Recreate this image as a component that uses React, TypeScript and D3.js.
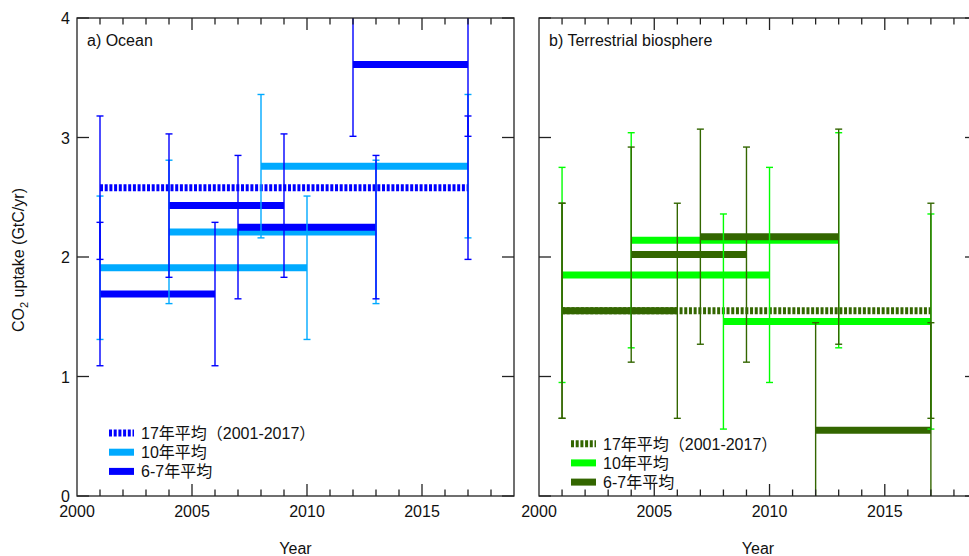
import React from "react";
import * as d3 from "d3";

// ---- Data ----
const xTickYears = [2000, 2005, 2010, 2015];
const yTickValues = [0, 1, 2, 3, 4];

const ocean17Start = [2001];
const ocean17End = [2017];
const ocean17Value = [2.58];
const ocean17Err = [0.6];

const ocean10Start = [2001, 2004, 2008];
const ocean10End = [2010, 2013, 2017];
const ocean10Value = [1.91, 2.21, 2.76];
const ocean10Err = [0.6, 0.6, 0.6];

const ocean67Start = [2001, 2004, 2007, 2012];
const ocean67End = [2006, 2009, 2013, 2017];
const ocean67Value = [1.69, 2.43, 2.25, 3.61];
const ocean67Err = [0.6, 0.6, 0.6, 0.6];

const land17Start = [2001];
const land17End = [2017];
const land17Value = [1.55];
const land17Err = [0.9];

const land10Start = [2001, 2004, 2008];
const land10End = [2010, 2013, 2017];
const land10Value = [1.85, 2.14, 1.46];
const land10Err = [0.9, 0.9, 0.9];

const land67Start = [2001, 2004, 2007, 2012];
const land67End = [2006, 2009, 2013, 2017];
const land67Value = [1.55, 2.02, 2.17, 0.55];
const land67Err = [0.9, 0.9, 0.9, 0.9];

const legendLabels = ["17年平均（2001-2017）", "10年平均", "6-7年平均"];

type Seg = { s: number; e: number; v: number; err: number };
const segs = (s: number[], e: number[], v: number[], err: number[]): Seg[] =>
  s.map((d, i) => ({ s: d, e: e[i], v: v[i], err: err[i] }));

const FONT = "'Liberation Sans', Arial, Helvetica, sans-serif";
const CJK = "'Liberation Sans', 'Noto Sans CJK JP', sans-serif";
const AXIS = "#222";

type PanelProps = {
  id: string;
  left: number;
  right: number;
  title: string;
  s17: Seg[];
  s10: Seg[];
  s67: Seg[];
  c17: string;
  c10: string;
  c67: string;
  legendX: number;
  legendY: number;
  yLabels: boolean;
};

const TOP = 18;
const BOTTOM = 496;

function Panel(p: PanelProps) {
  const x = d3.scaleLinear().domain([2000, 2019]).range([p.left, p.right]);
  const y = d3.scaleLinear().domain([0, 4]).range([BOTTOM, TOP]);
  const minor = d3.range(2001, 2019);
  const lw = 7;
  const cap = 3.5;

  const errBars = (list: Seg[], color: string, key: string) =>
    list.flatMap((d, i) =>
      [d.s, d.e].map((yr, j) => {
        const xx = x(yr);
        const y1 = y(d.v - d.err);
        const y2 = y(d.v + d.err);
        return (
          <g key={`${key}-${i}-${j}`} stroke={color} strokeWidth={1.4}>
            <line x1={xx} x2={xx} y1={y1} y2={y2} />
            <line x1={xx - cap} x2={xx + cap} y1={y1} y2={y1} />
            <line x1={xx - cap} x2={xx + cap} y1={y2} y2={y2} />
          </g>
        );
      })
    );

  const hLines = (list: Seg[], color: string, key: string, dash?: string) =>
    list.map((d, i) => (
      <line
        key={`${key}-${i}`}
        x1={x(d.s)}
        x2={x(d.e)}
        y1={y(d.v)}
        y2={y(d.v)}
        stroke={color}
        strokeWidth={lw}
        strokeDasharray={dash}
      />
    ));

  const legendColors = [p.c17, p.c10, p.c67];
  const dash = "3 1.7";

  return (
    <g>
      <defs>
        <clipPath id={p.id}>
          <rect x={p.left} y={TOP} width={p.right - p.left} height={BOTTOM - TOP} />
        </clipPath>
      </defs>
      <g clipPath={`url(#${p.id})`}>
        {hLines(p.s17, p.c17, "l17", dash)}
        {hLines(p.s10, p.c10, "l10")}
        {hLines(p.s67, p.c67, "l67")}
        {errBars(p.s10, p.c10, "e10")}
        {errBars(p.s67, p.c67, "e67")}
        {errBars(p.s17, p.c17, "e17")}
      </g>
      {/* frame */}
      <rect
        x={p.left}
        y={TOP}
        width={p.right - p.left}
        height={BOTTOM - TOP}
        fill="none"
        stroke={AXIS}
        strokeWidth={1.3}
      />
      {/* x ticks */}
      {minor.map((yr) => {
        const major = yr % 5 === 0;
        const len = major ? 12 : 6.5;
        return (
          <g key={`xt-${yr}`} stroke={AXIS} strokeWidth={1.3}>
            <line x1={x(yr)} x2={x(yr)} y1={BOTTOM} y2={BOTTOM - len} />
            <line x1={x(yr)} x2={x(yr)} y1={TOP} y2={TOP + len} />
          </g>
        );
      })}
      {xTickYears.map((yr) => (
        <text
          key={`xl-${yr}`}
          x={x(yr)}
          y={517}
          textAnchor="middle"
          fontFamily={FONT}
          fontSize={16}
          fill="#111"
        >
          {yr}
        </text>
      ))}
      {/* y ticks */}
      {yTickValues.map((v) => (
        <g key={`yt-${v}`} stroke={AXIS} strokeWidth={1.3}>
          <line x1={p.left} x2={p.left + 12} y1={y(v)} y2={y(v)} />
          <line x1={p.right} x2={p.right - 12} y1={y(v)} y2={y(v)} />
        </g>
      ))}
      {p.yLabels &&
        yTickValues.map((v) => (
          <text
            key={`yl-${v}`}
            x={p.left - 7}
            y={y(v) + 6}
            textAnchor="end"
            fontFamily={FONT}
            fontSize={16}
            fill="#111"
          >
            {v}
          </text>
        ))}
      <text
        x={(p.left + p.right) / 2}
        y={554}
        textAnchor="middle"
        fontFamily={FONT}
        fontSize={16}
        fill="#111"
      >
        Year
      </text>
      <text x={p.left + 10} y={46} fontFamily={FONT} fontSize={16} fill="#111">
        {p.title}
      </text>
      {/* legend */}
      {legendLabels.map((lab, i) => {
        const ly = p.legendY + i * 19.2;
        return (
          <g key={`lg-${i}`}>
            <line
              x1={p.legendX}
              x2={p.legendX + 25}
              y1={ly}
              y2={ly}
              stroke={legendColors[i]}
              strokeWidth={lw}
              strokeDasharray={i === 0 ? dash : undefined}
            />
            <text
              x={p.legendX + 32}
              y={ly + 6}
              fontFamily={CJK}
              fontSize={16}
              fill="#111"
            >
              {lab}
            </text>
          </g>
        );
      })}
    </g>
  );
}

export default function App() {
  return (
    <svg
      width={969}
      height={556}
      style={{ position: "absolute", left: 0, top: 0, background: "#fff" }}
    >
      <rect x={0} y={0} width={969} height={556} fill="#fff" />
      <Panel
        id="clipA"
        left={77}
        right={514}
        title="a) Ocean"
        s17={segs(ocean17Start, ocean17End, ocean17Value, ocean17Err)}
        s10={segs(ocean10Start, ocean10End, ocean10Value, ocean10Err)}
        s67={segs(ocean67Start, ocean67End, ocean67Value, ocean67Err)}
        c17="#0000ff"
        c10="#00aaff"
        c67="#0000ff"
        legendX={109}
        legendY={433}
        yLabels={true}
      />
      <Panel
        id="clipB"
        left={539}
        right={977}
        title="b) Terrestrial biosphere"
        s17={segs(land17Start, land17End, land17Value, land17Err)}
        s10={segs(land10Start, land10End, land10Value, land10Err)}
        s67={segs(land67Start, land67End, land67Value, land67Err)}
        c17="#336600"
        c10="#00ff00"
        c67="#336600"
        legendX={571}
        legendY={443.7}
        yLabels={false}
      />
      <text
        transform="translate(24,260) rotate(-90)"
        textAnchor="middle"
        fontFamily={FONT}
        fontSize={16}
        fill="#111"
      >
        CO
        <tspan fontSize={11} dy={4}>
          2
        </tspan>
        <tspan dy={-4}> uptake (GtC/yr)</tspan>
      </text>
    </svg>
  );
}
